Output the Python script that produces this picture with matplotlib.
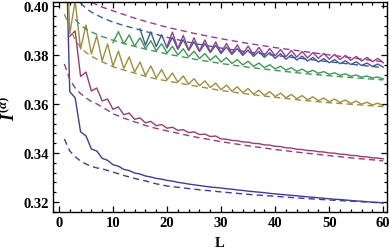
import numpy as np
import matplotlib
matplotlib.use('Agg')
from matplotlib import pyplot as plt
from matplotlib.ticker import MultipleLocator, FormatStrFormatter

plt.rcParams['font.family'] = ['Liberation Serif', 'DejaVu Serif']
plt.rcParams['font.weight'] = 'bold'
plt.rcParams['mathtext.fontset'] = 'custom'
plt.rcParams['mathtext.it'] = 'Liberation Serif:italic:bold'
plt.rcParams['mathtext.rm'] = 'Liberation Serif:bold'

# exact values (solid), one value per L
s1_start = 1
s1 = [0.450, 0.3650, 0.3625, 0.3486, 0.3470, 0.3416, 0.3408, 0.3378, 0.3370, 0.3352,
      0.3346, 0.3333, 0.3328, 0.3318, 0.3314, 0.3306, 0.3302, 0.3296, 0.3293, 0.3288,
      0.3285, 0.3280, 0.3277, 0.3273, 0.3270, 0.3267, 0.3264, 0.3261, 0.3259, 0.3257,
      0.3254, 0.3252, 0.3249, 0.3247, 0.3244, 0.3242, 0.3240, 0.3238, 0.3235, 0.3233,
      0.3231, 0.3229, 0.3227, 0.3225, 0.3223, 0.3221, 0.3219, 0.3217, 0.3215, 0.3213,
      0.3211, 0.3210, 0.3208, 0.3206, 0.3204, 0.3203, 0.3201, 0.3199, 0.3198, 0.3196]

s2_start = 2
s2 = [0.3876, 0.3898, 0.3712, 0.3730, 0.3653, 0.3665, 0.3612, 0.3620, 0.3578, 0.3588,
      0.3556, 0.3563, 0.3537, 0.3543, 0.3523, 0.3529, 0.3511, 0.3516, 0.3501, 0.3505,
      0.3492, 0.3495, 0.3483, 0.3486, 0.3475, 0.3477, 0.3467, 0.3469, 0.3457, 0.3456,
      0.3451, 0.3450, 0.3445, 0.3444, 0.3439, 0.3438, 0.3433, 0.3432, 0.3427, 0.3426,
      0.3421, 0.3420, 0.3415, 0.3414, 0.3410, 0.3409, 0.3405, 0.3404, 0.3400, 0.3399,
      0.3395, 0.3394, 0.3390, 0.3389, 0.3385, 0.3384, 0.3380, 0.3379, 0.3376]

s3_start = 1
s3 = [0.450, 0.3886, 0.4020, 0.3824, 0.3922, 0.3804, 0.3878, 0.3776, 0.3845, 0.3755,
      0.3816, 0.3745, 0.3792, 0.3730, 0.3771, 0.3716, 0.3755, 0.3706, 0.3740, 0.3698,
      0.3726, 0.3689, 0.3714, 0.3681, 0.3703, 0.3674, 0.3694, 0.3667, 0.3685, 0.3658,
      0.3677, 0.3652, 0.3670, 0.3646, 0.3663, 0.3640, 0.3656, 0.3635, 0.3650, 0.3630,
      0.3644, 0.3625, 0.3639, 0.3621, 0.3634, 0.3617, 0.3629, 0.3613, 0.3624, 0.3609,
      0.3620, 0.3606, 0.3616, 0.3602, 0.3612, 0.3599, 0.3607, 0.3596, 0.3603, 0.3593]

s4_start = 10
s4 = [0.3850, 0.3895, 0.3845, 0.3882, 0.3836, 0.3870, 0.3826, 0.3858, 0.3817, 0.3846,
      0.3808, 0.3835, 0.3800, 0.3825, 0.3792, 0.3815, 0.3785, 0.3806, 0.3778, 0.3797,
      0.3771, 0.3789, 0.3765, 0.3781, 0.3759, 0.3774, 0.3753, 0.3767, 0.3748, 0.3760,
      0.3743, 0.3754, 0.3738, 0.3748, 0.3733, 0.3742, 0.3729, 0.3737, 0.3725, 0.3732,
      0.3721, 0.3727, 0.3717, 0.3723, 0.3713, 0.3718, 0.3709, 0.3714, 0.3706, 0.3710,
      0.3702]

s5_start = 15
s5 = [0.3906, 0.3840, 0.3894, 0.3834, 0.3882, 0.3828, 0.3872, 0.3823, 0.3862, 0.3818,
      0.3854, 0.3814, 0.3846, 0.3810, 0.3839, 0.3806, 0.3832, 0.3802, 0.3826, 0.3798,
      0.3820, 0.3794, 0.3815, 0.3790, 0.3810, 0.3786, 0.3805, 0.3782, 0.3800, 0.3779,
      0.3795, 0.3775, 0.3790, 0.3771, 0.3785, 0.3768, 0.3781, 0.3764, 0.3776, 0.3761,
      0.3772, 0.3757, 0.3767, 0.3753, 0.3763, 0.3750]

s6_start = 20
s6 = [0.3835, 0.3893, 0.3826, 0.3880, 0.3820, 0.3870, 0.3816, 0.3861, 0.3812, 0.3853,
      0.3809, 0.3847, 0.3806, 0.3841, 0.3803, 0.3836, 0.3801, 0.3831, 0.3798, 0.3826,
      0.3796, 0.3822, 0.3793, 0.3818, 0.3791, 0.3814, 0.3788, 0.3810, 0.3786, 0.3806,
      0.3783, 0.3802, 0.3781, 0.3798, 0.3778, 0.3794, 0.3775, 0.3790, 0.3772, 0.3786,
      0.3768]

# asymptotic values (dashed)
L_d1 = [1, 2, 3, 4, 5, 6, 7, 8, 10, 12, 14, 16, 18, 20, 25, 30, 35, 40, 45, 50, 55, 60]
d1 = [0.3457, 0.3408, 0.3385, 0.3367, 0.3355, 0.3345, 0.3339, 0.3335, 0.3322, 0.3308, 0.3296,
      0.3286, 0.3274, 0.3265, 0.3252, 0.3241, 0.3231, 0.3223, 0.3215, 0.3208, 0.3202, 0.3196]
d2 = [0.3763, 0.3700, 0.3665, 0.3642, 0.3625, 0.3610, 0.3600, 0.3588, 0.3560, 0.3542, 0.3527,
      0.3512, 0.3500, 0.3490, 0.3466, 0.3446, 0.3429, 0.3414, 0.3401, 0.3389, 0.3378, 0.3368]
d3 = [0.3967, 0.3910, 0.3862, 0.3830, 0.3810, 0.3795, 0.3783, 0.3772, 0.3752, 0.3738, 0.3726,
      0.3713, 0.3702, 0.3694, 0.3674, 0.3655, 0.3640, 0.3627, 0.3615, 0.3605, 0.3597, 0.3589]
L_d4 = [3, 4, 5, 6, 7, 8, 10, 12, 14, 16, 18, 20, 25, 30, 35, 40, 45, 50, 55, 60]
d4 = [0.3945, 0.3922, 0.3906, 0.3894, 0.3884, 0.3875, 0.3860, 0.3847, 0.3835, 0.3824,
      0.3814, 0.3804, 0.3783, 0.3765, 0.3750, 0.3737, 0.3725, 0.3715, 0.3706, 0.3698]
L_d5 = [4, 5, 6, 7, 8, 10, 12, 14, 16, 18, 20, 25, 30, 35, 40, 45, 50, 55, 60]
d5 = [0.4012, 0.3990, 0.3975, 0.3963, 0.3952, 0.3934, 0.3920, 0.3908, 0.3896, 0.3884,
      0.3872, 0.3847, 0.3828, 0.3812, 0.3798, 0.3785, 0.3772, 0.3760, 0.3748]
L_d6 = [6, 7, 8, 10, 12, 14, 16, 18, 20, 25, 30, 35, 40, 45, 50, 55, 60]
d6 = [0.4015, 0.4005, 0.3995, 0.3980, 0.3965, 0.3950, 0.3937, 0.3925, 0.3913, 0.3888,
      0.3866, 0.3847, 0.3830, 0.3815, 0.3800, 0.3786, 0.3772]

colors = [(0.247, 0.24, 0.6), (0.6, 0.24, 0.443), (0.62, 0.56, 0.24),
          (0.24, 0.6, 0.336), (0.24, 0.354, 0.6), (0.6, 0.24, 0.564)]

solids = [(s1_start, s1), (s2_start, s2), (s3_start, s3),
          (s4_start, s4), (s5_start, s5), (s6_start, s6)]
dashed = [(L_d1, d1), (L_d1, d2), (L_d1, d3), (L_d4, d4), (L_d5, d5), (L_d6, d6)]

fig = plt.figure(figsize=(3.9, 2.51), dpi=100)
ax = fig.add_axes([53 / 390, 1 - 213 / 251, 334 / 390, 210 / 251])

for c, (start, vals), (ld, dv) in zip(colors, solids, dashed):
    ax.plot(np.arange(start, start + len(vals)), vals, color=c, lw=1.0)
    ax.plot(ld, dv, color=c, lw=1.0, dashes=(4.5, 3))

ax.set_xlim(-1.1, 60.7)
ax.set_ylim(0.3159, 0.4016)

ax.xaxis.set_major_locator(MultipleLocator(10))
ax.xaxis.set_minor_locator(MultipleLocator(2))
ax.yaxis.set_major_locator(MultipleLocator(0.02))
ax.yaxis.set_minor_locator(MultipleLocator(0.004))
ax.yaxis.set_major_formatter(FormatStrFormatter('%.2f'))
ax.tick_params(which='both', direction='in', top=True, right=True, width=0.9,
               labelsize=10.5, pad=3)
ax.tick_params(which='major', length=4)
ax.tick_params(which='minor', length=2)
for sp in ax.spines.values():
    sp.set_linewidth(1.0)

ax.set_xlabel('L', fontsize=10.5, fontweight='bold', labelpad=5)
ax.set_ylabel(r'$I^{(\alpha)}$', fontsize=13, labelpad=3)

plt.savefig('out.png', dpi=100)
plt.close()
